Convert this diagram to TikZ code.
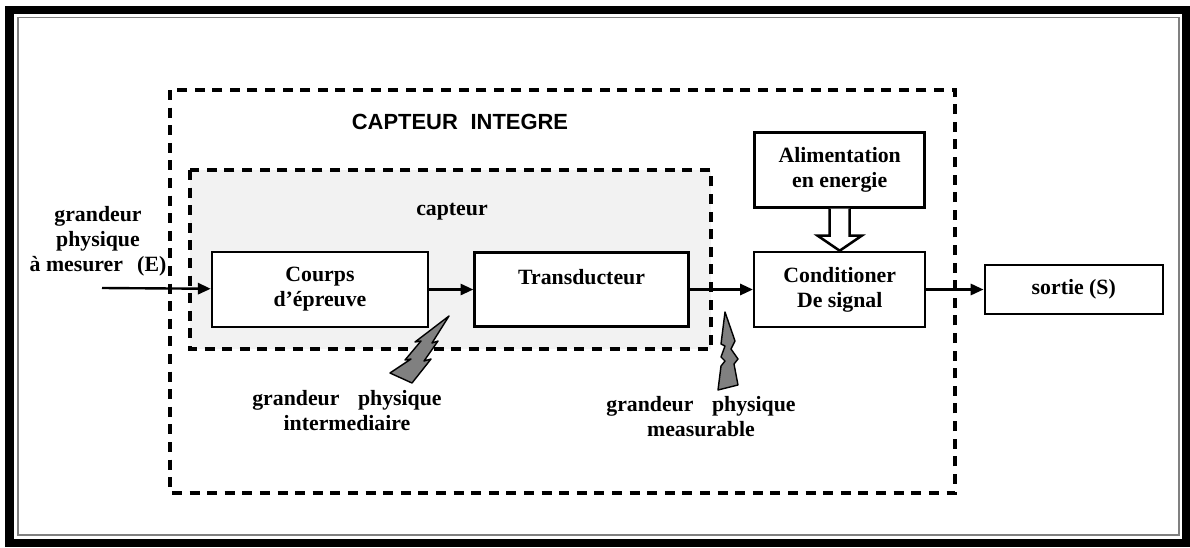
\documentclass[tikz,border=0pt]{standalone}
\usepackage{fontspec}
\setmainfont{Liberation Serif}
\newfontfamily\titlefont{Liberation Sans}
\usetikzlibrary{arrows.meta,positioning}

\definecolor{capteurfill}{RGB}{242,242,242}
\definecolor{boltgray}{RGB}{128,128,128}

\begin{document}
\begin{tikzpicture}[
  x=0.025cm, y=-0.025cm,
  font=\bfseries\fontsize{15.5}{17.8}\selectfont,
  block/.style={draw, line width=1.8pt, fill=white, align=center, inner sep=0pt},
  zone/.style={draw, line width=2.3pt, dash pattern=on 0.25cm off 0.19cm},
  arrow/.style={-{Triangle[length=0.32cm,width=0.28cm]}, line width=1.7pt},
  bolt/.style={draw, fill=boltgray, line width=1pt, line join=round},
  label/.style={align=center, inner sep=0pt}
]
\useasboundingbox (0,0) rectangle (1190,547);

% cadre
\draw[line width=5.7pt] (9.5,10) rectangle (1186,542.5);
\draw[gray, line width=1.4pt] (18,17.5) rectangle (1179,535);

% zones capteur integre et capteur
\draw[zone] (170,90) rectangle (955,493);
\draw[zone, fill=capteurfill] (190,170) rectangle (711,349);
\node[font=\titlefont\bfseries\fontsize{15.6}{18}\selectfont] (integre) at (460,122) {CAPTEUR\hspace{0.3em} INTEGRE};
\node[label] (capteur) at (452,212) {capteur};

% chaine de mesure
\node[block, minimum width=5.4cm, minimum height=1.875cm] (corps) at (320,289.5) {Courps\\d'épreuve};
\node[block, minimum width=5.35cm, minimum height=1.85cm, right=1.1cm of corps] (trans) {Transducteur\\\mbox{}};
\node[block, minimum width=4.275cm, minimum height=1.875cm, right=1.575cm of trans] (cond) {Conditioner\\De signal};
\node[block, minimum width=4.45cm, minimum height=1.225cm, right=1.425cm of cond] (sortie) {sortie (S)};
\node[block, minimum width=4.25cm, minimum height=1.875cm, above=1.05cm of cond] (alim) {Alimentation\\en energie};

\node[label] (entree) at (98,241) {grandeur\\physique\\à mesurer\hspace{0.4em} (E)};
\coordinate (e0) at (102,288);

\draw[arrow] (e0) -- (corps);
\draw[arrow] (corps) -- (trans);
\draw[arrow] (trans) -- (cond);
\draw[arrow] (cond) -- (sortie);

% fleche creuse de l'alimentation
\draw[line width=1.8pt, fill=white, line join=miter] (alim.south) ++(-10,0) -- ++(0,27) -- ++(-12,0)
  -- ++(22,15) -- ++(22,-15) -- ++(-12,0) -- ++(0,-27);

% eclairs
\draw[bolt] (449,316) -- (432,343) -- (438,341) -- (424,361) -- (431,359) -- (412,383)
  -- (390,373) -- (411,359) -- (405,360) -- (421,341) -- (415,342) -- cycle;
\draw[bolt] (725,312) -- (735,341) -- (731,349) -- (738,359) -- (734,364) -- (738,385)
  -- (718,390) -- (721,366) -- (725,361) -- (721,357) -- (725,346) -- (721,344) -- cycle;

\node[label] (inter) at (347,411) {grandeur\hspace{0.6em} physique\\intermediaire};
\node[label] (mesur) at (701,417) {grandeur\hspace{0.6em} physique\\measurable};
\end{tikzpicture}
\end{document}
